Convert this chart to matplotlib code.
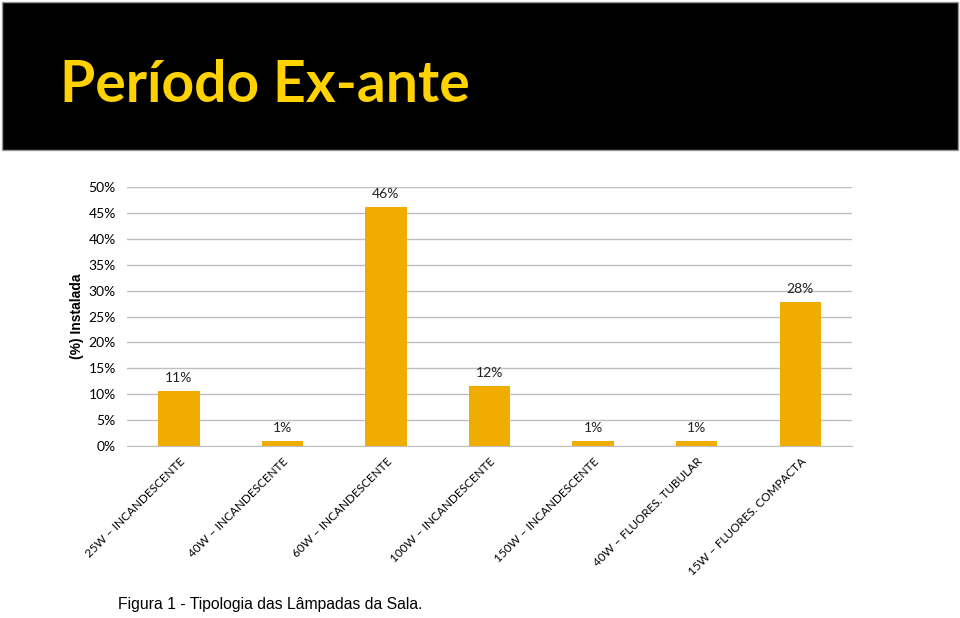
import matplotlib.pyplot as plt
from matplotlib.patches import Rectangle

categories = ['25W – INCANDESCENTE', '40W – INCANDESCENTE', '60W – INCANDESCENTE',
              '100W – INCANDESCENTE', '150W – INCANDESCENTE', '40W – FLUORES. TUBULAR',
              '15W – FLUORES. COMPACTA']
values = [10.6, 1.0, 46.1, 11.6, 0.9, 0.9, 27.8]
yticks = [0, 5, 10, 15, 20, 25, 30, 35, 40, 45, 50]


def main():
    fig = plt.figure(figsize=(9.6, 6.18), dpi=100)

    # black title banner
    fig.patches.append(Rectangle((2 / 960, 1 - 150 / 618), 956 / 960, 148 / 618,
                                 transform=fig.transFigure, facecolor='black',
                                 edgecolor='#999999', linewidth=1))
    fig.text(60 / 960, 1 - 86 / 618, 'Período Ex-ante', color='#FFD200',
             fontsize=41, fontweight='bold', family='Lato', va='center', ha='left')

    ax = fig.add_axes([127 / 960, 1 - 446 / 618, 725 / 960, 259 / 618])
    x = range(len(categories))
    bars = ax.bar(x, values, width=0.4, color='#F0AC00', zorder=3)
    for b, v in zip(bars, values):
        ax.annotate(f'{round(v)}%', (b.get_x() + b.get_width() / 2, v),
                    xytext=(0, 5), textcoords='offset points', ha='center',
                    va='bottom', fontsize=10, family='Lato', color='#222222')

    ax.set_xlim(-0.5, len(categories) - 0.5)
    ax.set_ylim(0, 50)
    ax.set_yticks(yticks)
    ax.set_yticklabels([f'{t}%' for t in yticks], family='Lato', fontsize=10)
    ax.set_xticks(list(x))
    ax.set_xticklabels(categories, rotation=45, ha='right', rotation_mode='anchor',
                       family='Lato', fontsize=8.5)
    ax.tick_params(axis='y', length=0, pad=8)
    ax.tick_params(axis='x', length=0, pad=7)
    ax.grid(axis='y', color='#BFBFBF', linewidth=1, zorder=0)
    for s in ['top', 'right', 'left']:
        ax.spines[s].set_visible(False)
    ax.spines['bottom'].set_color('#BFBFBF')
    ax.set_ylabel('(%) Instalada', fontweight='bold', fontsize=10,
                  family='Liberation Sans', labelpad=3)

    fig.text(118 / 960, 1 - 605 / 618, 'Figura 1 - Tipologia das Lâmpadas da Sala.',
             family='Liberation Sans', fontsize=11.3, va='center', ha='left')

    fig.savefig('out.png', dpi=100)


if __name__ == '__main__':
    main()
